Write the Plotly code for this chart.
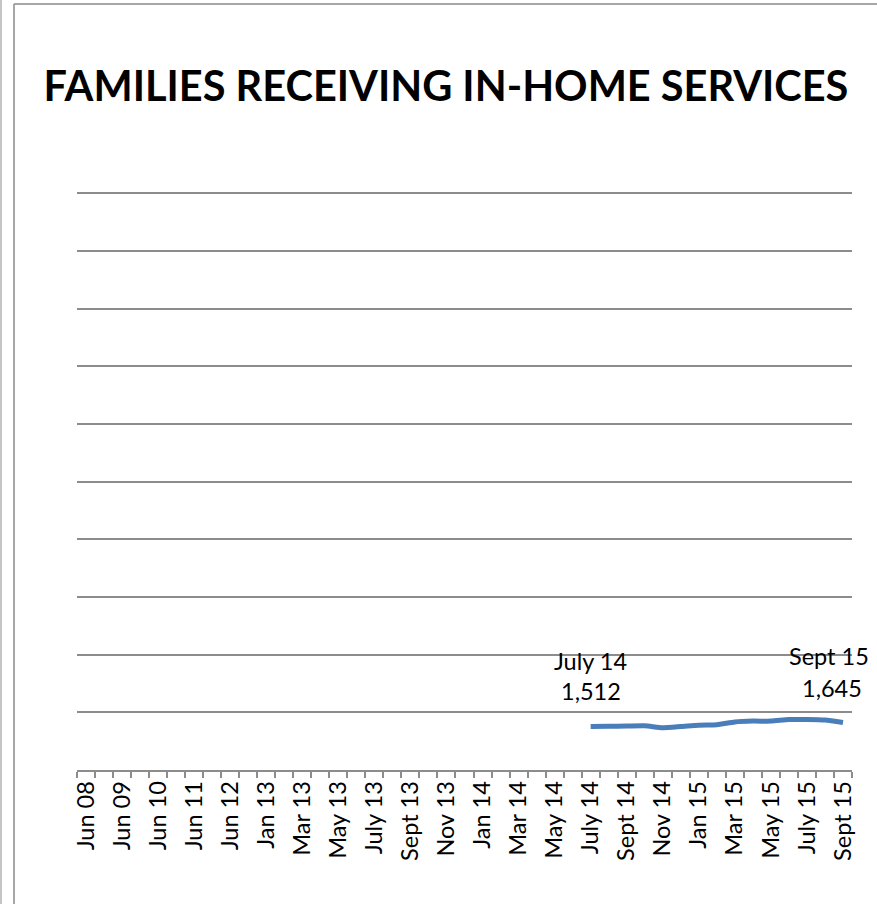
import plotly.graph_objects as go

categories = [
    "Jun 08", "Dec 08", "Jun 09", "Dec 09", "Jun 10", "Dec 10", "Jun 11", "Dec 11",
    "Jun 12", "Oct 12", "Jan 13", "Feb 13", "Mar 13", "Apr 13", "May 13", "Jun 13",
    "July 13", "Aug 13", "Sept 13", "Oct 13", "Nov 13", "Dec 13", "Jan 14", "Feb 14",
    "Mar 14", "Apr 14", "May 14", "Jun 14", "July 14", "Aug 14", "Sept 14", "Oct 14",
    "Nov 14", "Dec 14", "Jan 15", "Feb 15", "Mar 15", "Apr 15", "May 15", "Jun 15",
    "July 15", "Aug 15", "Sept 15",
]
families = [None] * 28 + [
    1512, 1515, 1522, 1530, 1465, 1505, 1555, 1570, 1665, 1695, 1695, 1750, 1750, 1730, 1645,
]
tick_labels = [c if i % 2 == 0 else "" for i, c in enumerate(categories)]

FONT = "Lato"
GRID = "#8c8c8c"

fig = go.Figure()
fig.add_trace(go.Scatter(
    x=categories, y=families, mode="lines",
    line=dict(color="#4a7ebb", width=5, shape="spline", smoothing=0.6),
    connectgaps=False, hoverinfo="x+y", showlegend=False,
))

fig.update_layout(
    width=877, height=904,
    margin=dict(l=77, r=25, t=192, b=134),
    paper_bgcolor="white", plot_bgcolor="white",
    font=dict(family=FONT, color="black"),
    title=dict(
        text="<b>FAMILIES RECEIVING IN-HOME SERVICES</b>",
        x=446 / 877, xanchor="center", y=1 - 86 / 904, yanchor="middle",
        font=dict(family=FONT, size=41.5, color="black"),
    ),
    xaxis=dict(
        type="category", categoryorder="array", categoryarray=categories,
        range=[-0.5, len(categories) - 0.5],
        tickmode="array", tickvals=categories, ticktext=tick_labels,
        tickson="boundaries", ticks="outside", ticklen=6, tickcolor=GRID, tickwidth=1.5,
        tickangle=-90, tickfont=dict(family=FONT, size=23.5, color="black"),
        showline=True, linecolor=GRID, linewidth=1.5,
        showgrid=False, zeroline=False,
    ),
    yaxis=dict(
        range=[0, 20040], tickmode="linear", tick0=0, dtick=2000,
        showticklabels=False, ticks="",
        showgrid=True, gridcolor=GRID, gridwidth=1.5,
        zeroline=False, showline=False,
    ),
)

# annotations for endpoints
ann_font = dict(family=FONT, size=23.5, color="black")
fig.add_annotation(x="July 14", y=3770, text="July 14", showarrow=False, font=ann_font, yanchor="middle")
fig.add_annotation(x="July 14", y=2740, text="1,512", showarrow=False, font=ann_font, yanchor="middle")
fig.add_annotation(x="Sept 15", y=3940, text="Sept 15", showarrow=False, xshift=-14, font=ann_font, yanchor="middle")
fig.add_annotation(x="Sept 15", y=2830, text="1,645", showarrow=False, xshift=-11, font=ann_font, yanchor="middle")

# chart-area borders
def fx(px):
    return (px - 77) / 775

def fy(py):
    return (770 - py) / 578

fig.add_shape(type="line", xref="paper", yref="paper", x0=fx(14), x1=fx(14), y0=fy(4), y1=fy(910),
              line=dict(color="#8a8a8a", width=1.5))
fig.add_shape(type="line", xref="paper", yref="paper", x0=fx(14), x1=fx(880), y0=fy(4), y1=fy(4),
              line=dict(color="#8a8a8a", width=1.5))
fig.add_shape(type="line", xref="paper", yref="paper", x0=fx(1), x1=fx(1), y0=fy(-5), y1=fy(910),
              line=dict(color="#b0b0b0", width=1.5))

fig.write_html(
    "out.html",
    config={"displayModeBar": False},
    post_script="document.body.style.margin='0';document.body.style.overflow='hidden';",
)
